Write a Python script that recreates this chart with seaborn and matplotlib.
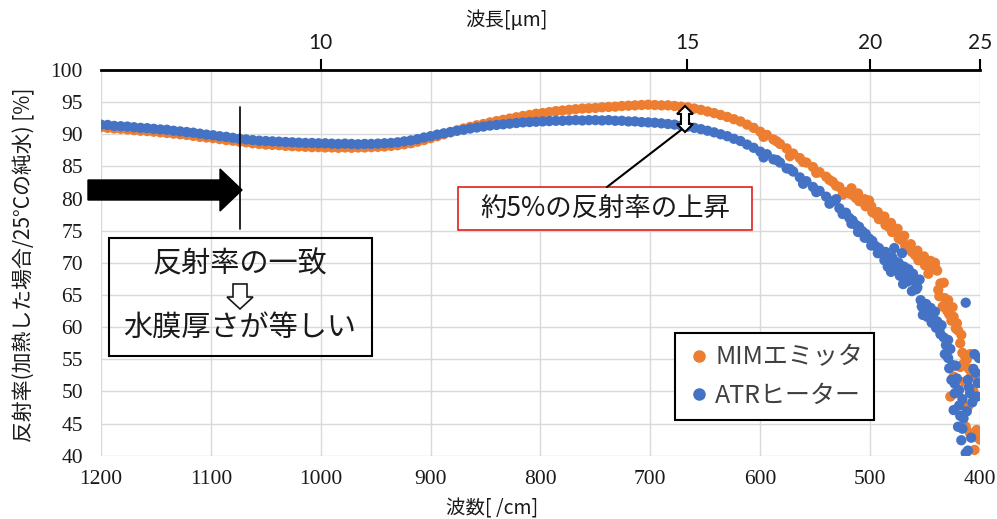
import numpy as np
import pandas as pd
import matplotlib.pyplot as plt
import seaborn as sns
from matplotlib.patches import Polygon, Rectangle
from matplotlib.lines import Line2D

# wavenumber grid of the smooth part [/cm]
wn_main = list(range(1200, 521, -6))

# reflectance [%]
mim_main = [
    91.1, 91.0, 90.9, 90.85, 90.75, 90.65, 90.55, 90.5, 90.4,
    90.3, 90.2, 90.1, 90.0, 89.9, 89.75, 89.6, 89.5,
    89.4, 89.25, 89.1, 89.0, 88.85, 88.75, 88.6, 88.5, 88.4,
    88.35, 88.3, 88.2, 88.15, 88.1, 88.05, 88.0, 88.0,
    87.95, 87.95, 87.9, 87.95, 87.9, 87.95, 87.95, 88.0,
    88.05, 88.1, 88.2, 88.3, 88.45, 88.6, 88.85, 89.1,
    89.4, 89.7, 90.0, 90.3, 90.6, 90.9, 91.15, 91.4,
    91.6, 91.85, 92.05, 92.25, 92.45, 92.65, 92.85, 93.0,
    93.2, 93.3, 93.45, 93.6, 93.7, 93.8, 93.9, 94.0,
    94.05, 94.1, 94.2, 94.25, 94.3, 94.4, 94.45, 94.5,
    94.55, 94.6, 94.55, 94.5, 94.5, 94.4, 94.3, 94.2,
    94.0, 93.8, 93.55, 93.3, 93.0, 92.7, 92.35, 92.0,
    91.5, 91.0, 90.4, 89.9, 89.2, 88.5, 87.8, 87.0,
    86.3, 85.6, 84.9, 84.1, 83.4, 82.6, 81.8, 81.0,
]
atr_main = [
    91.5, 91.45, 91.3, 91.25, 91.2, 91.1, 91.0, 90.95, 90.85,
    90.75, 90.7, 90.55, 90.45, 90.35, 90.25, 90.1, 89.95,
    89.85, 89.7, 89.6, 89.45, 89.3, 89.2, 89.1, 89.0, 88.95,
    88.9, 88.85, 88.8, 88.75, 88.7, 88.65, 88.65, 88.6,
    88.6, 88.55, 88.5, 88.55, 88.5, 88.45, 88.5, 88.5,
    88.55, 88.6, 88.65, 88.75, 88.9, 89.05, 89.25, 89.5,
    89.7, 89.95, 90.15, 90.35, 90.55, 90.7, 90.9, 91.05,
    91.2, 91.35, 91.45, 91.55, 91.65, 91.75, 91.85, 91.9,
    91.95, 92.0, 92.05, 92.1, 92.1, 92.15, 92.2, 92.15,
    92.2, 92.2, 92.15, 92.2, 92.1, 92.1, 92.0, 92.0,
    91.9, 91.85, 91.8, 91.7, 91.6, 91.5, 91.35, 91.2,
    91.0, 90.8, 90.55, 90.3, 90.0, 89.7, 89.3, 88.95,
    88.4, 87.9, 87.3, 86.9, 86.1, 85.6, 84.7, 84.2,
    83.3, 82.7, 81.8, 81.2, 80.3, 79.6, 78.5, 77.8,
]

# scattered points of the noisy part (mostly below 520 /cm)
mim_scatter_wn = [519, 516, 513, 510, 507, 504, 501, 498, 495, 492, 489, 486, 483, 480,
                  477, 474, 471, 468, 465, 462, 459, 456, 453, 450, 447, 444, 441, 438,
                  436, 434, 432, 430, 428, 426, 424, 422, 420, 418, 416, 414, 412, 410,
                  408, 406, 404, 402, 401, 427, 424, 418, 414, 411, 405, 403, 413, 409,
                  441, 437,
                  517, 511, 505, 499, 493, 487, 481, 475, 469, 463, 457, 451, 445, 439,
                  433, 429, 425, 421, 417, 415, 409, 407, 403, 400, 400,
                  597, 585, 573, 561, 549, 537, 531, 525]
mim_scatter_r = [80.8, 80.6, 80.1, 79.6, 79.5, 78.8, 79.7, 77.9, 77.6, 76.8, 76.9, 75.9, 75.6, 74.8,
                 75.0, 73.8, 73.5, 72.6, 72.4, 71.7, 71.2, 70.4, 70.6, 69.6, 68.3, 69.0, 69.4, 65.8,
                 66.8, 63.2, 64.5, 62.6, 62.0, 61.0, 61.6, 59.8, 59.5, 57.5, 56.0, 55.6, 55.0, 53.5,
                 52.4, 50.0, 52.6, 51.8, 42.7, 49.2, 52.3, 53.8, 51.5, 47.6, 40.9, 44.0, 44.5, 43.5,
                 70.0, 64.8,
                 81.6, 80.8, 79.9, 78.8, 77.9, 77.2, 76.2, 75.3, 74.2, 72.9, 71.9, 71.0, 70.3, 68.8,
                 66.9, 64.2, 63.1, 60.6, 58.8, 54.3, 55.8, 53.1, 49.2, 51.4, 42.5,
                 89.6, 88.9, 86.6, 85.7, 84.0, 82.9, 82.0, 80.6]
atr_scatter_wn = [519, 516, 513, 510, 507, 504, 501, 498, 495, 492, 489, 486, 483, 480,
                  478, 476, 474, 472, 471, 469, 467, 465, 463, 461, 459, 457, 455, 453,
                  451, 449, 447, 445, 443, 441, 439, 437, 435, 433, 431, 429, 427, 425,
                  423, 421, 419, 417, 415, 413, 411, 409, 407, 405, 403, 402, 413, 406,
                  424, 420, 416, 411, 408, 426, 429, 422, 418,
                  517, 511, 505, 499, 493, 487, 484, 481, 477, 473, 470, 466, 462, 458,
                  454, 452, 448, 444, 440, 436, 432, 428, 423, 419, 416, 412, 410, 404, 401,
                  597, 585, 573, 561, 549, 537, 531, 525]
atr_scatter_r = [77.0, 76.6, 75.9, 75.6, 74.9, 74.5, 73.8, 73.4, 72.6, 72.3, 71.4, 71.7, 70.5, 70.9,
                 72.3, 69.6, 70.0, 68.8, 71.5, 69.4, 68.2, 69.0, 67.6, 68.3, 67.0, 66.2, 67.4, 63.2,
                 62.7, 63.6, 62.4, 63.0, 61.8, 62.4, 60.9, 59.6, 60.3, 58.4, 57.2, 58.0, 56.6, 54.1,
                 49.7, 52.0, 50.2, 42.4, 45.8, 63.8, 51.8, 49.7, 48.3, 55.8, 49.2, 51.3, 40.4, 53.5,
                 47.1, 44.5, 48.8, 40.8, 42.8, 51.8, 55.2, 54.0, 46.2,
                 76.1, 74.8, 73.9, 72.7, 71.5, 70.4, 69.4, 68.6, 70.2, 68.0, 66.7, 67.1, 65.6, 65.9,
                 64.2, 61.9, 61.6, 60.7, 59.9, 58.9, 55.8, 53.6, 51.2, 47.8, 44.2, 46.9, 50.6, 52.9, 55.2,
                 86.4, 86.0, 84.6, 82.3, 81.0, 79.2, 79.9, 77.6]

series_names = ["MIMエミッタ", "ATRヒーター"]
series_colors = ["#ED7D31", "#4472C4"]
top_ticks_um = [10, 15, 20, 25]
x_ticks = list(range(400, 1201, 100))
y_ticks = list(range(40, 101, 5))

df = pd.concat([
    pd.DataFrame({"wn": wn_main + mim_scatter_wn, "r": mim_main + mim_scatter_r, "series": series_names[0]}),
    pd.DataFrame({"wn": wn_main + atr_scatter_wn, "r": atr_main + atr_scatter_r, "series": series_names[1]}),
], ignore_index=True)

sns.set_style("white")
plt.rcParams["font.family"] = ["Noto Sans CJK JP", "DejaVu Sans"]
plt.rcParams["font.serif"] = ["Liberation Serif", "DejaVu Serif"]

W, H = 997, 519
fig = plt.figure(figsize=(W / 100, H / 100), dpi=100)


def px(x, y):
    return (x / W, 1 - y / H)


ax = fig.add_axes([101 / W, 1 - 455.7 / H, (980 - 101) / W, (455.7 - 70) / H])
sns.scatterplot(data=df, x="wn", y="r", hue="series", hue_order=series_names,
                palette=series_colors, s=55, linewidth=0, alpha=1, legend=False, ax=ax)

# top wavelength axis
ax2 = ax.twiny()

ax.set_xlim(1200, 400)
ax.set_ylim(40, 100)
tick_font = dict(fontfamily="serif", fontsize=15.5, color="#1a1a1a")
ax.set_xticks(x_ticks, [str(v) for v in x_ticks], **tick_font)
ax.set_yticks(y_ticks, [str(v) for v in y_ticks], **tick_font)
ax.grid(True, color="#d9d9d9", linewidth=1)
ax.set_axisbelow(True)
for sp in ax.spines.values():
    sp.set_visible(False)
ax.tick_params(axis="both", length=0)
ax.tick_params(axis="x", pad=10)
ax.tick_params(axis="y", pad=13)
ax.set_xlabel("")
ax.set_ylabel("")

ax2.set_xlim(ax.get_xlim())
ax2.set_xticks([10000 / v for v in top_ticks_um], [str(v) for v in top_ticks_um],
               fontfamily="Lato", fontsize=15, color="#1a1a1a")
for name, sp in ax2.spines.items():
    sp.set_visible(name == "top")
ax2.spines["top"].set_linewidth(2)
ax2.spines["top"].set_color("black")
ax2.tick_params(axis="x", direction="out", length=8, width=1.5, color="black", pad=4)
ax2.grid(False)

# axis titles
fig.text(*px(24, 265), "反射率(加熱した場合/25°Cの純水) [%]", rotation=90,
         ha="center", va="center", fontsize=15, color="#1a1a1a")
fig.text(*px(492, 509), "波数[ /cm]", ha="center", va="center", fontsize=14, color="#1a1a1a")
fig.text(*px(506, 20), "波長[μm]", ha="center", va="center", fontsize=14, color="#1a1a1a")

# legend
handles = [Line2D([], [], marker="o", linestyle="", color=c, markersize=8) for c in series_colors]
leg = ax.legend(handles, series_names, loc="upper left", bbox_to_anchor=px(675, 333),
                bbox_transform=fig.transFigure, frameon=True, fancybox=False,
                edgecolor="black", facecolor="white", framealpha=1, fontsize=18,
                handletextpad=0.15, handlelength=1.0, borderpad=0.45, labelspacing=0.5,
                borderaxespad=0)
leg.get_frame().set_linewidth(1.5)
for t in leg.get_texts():
    t.set_color("#404040")

# black block arrow
arrow_pts = [(88, 180), (220, 180), (220, 169), (242, 190), (220, 211), (220, 200), (88, 200)]
fig.add_artist(Polygon([px(*p) for p in arrow_pts], closed=True, facecolor="black",
                       edgecolor="black", transform=fig.transFigure))
fig.add_artist(Line2D([240 / W, 240 / W], [1 - 107 / H, 1 - 229 / H], color="black",
                      linewidth=1.2, transform=fig.transFigure))

# box: matching reflectance -> equal water film thickness
x0, y0, x1, y1 = 109, 238, 372, 356
fig.add_artist(Rectangle(px(x0, y1), (x1 - x0) / W, (y1 - y0) / H, fill=False,
                         edgecolor="black", linewidth=1.5, transform=fig.transFigure))
fig.text(*px(240, 264), "反射率の一致", ha="center", va="center", fontsize=21, color="#1a1a1a")
fig.text(*px(240, 329), "水膜厚さが等しい", ha="center", va="center", fontsize=21, color="#1a1a1a")
down_pts = [(233, 284), (247, 284), (247, 297), (253, 297), (240, 309), (227, 297), (233, 297)]
fig.add_artist(Polygon([px(*p) for p in down_pts], closed=True, facecolor="white",
                       edgecolor="#1a1a1a", linewidth=1.2, transform=fig.transFigure))

# red box: ~5% rise
x0, y0, x1, y1 = 458, 187, 752, 230
fig.add_artist(Line2D([607 / W, 681 / W], [1 - 187 / H, 1 - 130 / H], color="black",
                      linewidth=1.5, transform=fig.transFigure))
fig.add_artist(Rectangle(px(x0, y1), (x1 - x0) / W, (y1 - y0) / H, facecolor="white",
                         edgecolor="#e0201b", linewidth=1.2, transform=fig.transFigure))
fig.text(*px(605, 209), "約5%の反射率の上昇", ha="center", va="center", fontsize=19, color="#1a1a1a")

# hollow double arrow between the two curves
dbl_pts = [(685, 106), (693, 114), (689, 114), (689, 124), (693, 124), (685, 132),
           (677, 124), (681, 124), (681, 114), (677, 114)]
fig.add_artist(Polygon([px(*p) for p in dbl_pts], closed=True, facecolor="white",
                       edgecolor="black", linewidth=1.5, transform=fig.transFigure))

fig.savefig("out.png", dpi=100)
